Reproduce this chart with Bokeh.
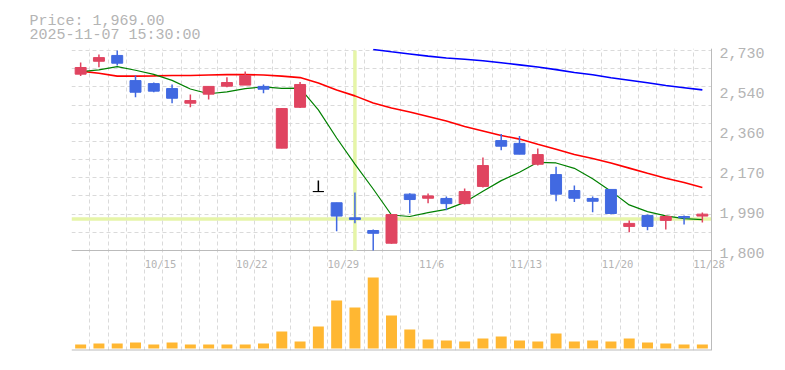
import math
from bokeh.plotting import figure
from bokeh.models import (ColumnDataSource, Range1d, LinearAxis, FixedTicker, Grid,
                          Span, Label, Title, BoxAnnotation)
from bokeh.embed import file_html
from bokeh.resources import INLINE
from bokeh.core.properties import value

# ---------------- data ----------------
dates = ["10/8", "10/9", "10/10", "10/14", "10/15", "10/16", "10/17", "10/20", "10/21",
         "10/22", "10/23", "10/24", "10/27", "10/28", "10/29", "10/30", "10/31", "11/4",
         "11/5", "11/6", "11/7", "11/10", "11/11", "11/12", "11/13", "11/14", "11/17",
         "11/18", "11/19", "11/20", "11/21", "11/25", "11/26", "11/27", "11/28"]
opens = [2620, 2680, 2707, 2590, 2576, 2553, 2485, 2527, 2564, 2569, 2563, 2276, 2466, 2074,
         2022, 1952, 1893, 1834, 2062, 2043, 2042, 2018, 2098, 2311, 2298, 2201, 2153, 2079,
         2042, 2084, 1912, 1963, 1940, 1958, 1960]
highs = [2674, 2711, 2730, 2614, 2581, 2572, 2525, 2563, 2606, 2632, 2572, 2463, 2584, 2125,
         2022, 2070, 1898, 1967, 2066, 2065, 2051, 2088, 2232, 2342, 2333, 2274, 2190, 2102,
         2051, 2084, 1940, 1967, 1964, 1963, 1977]
lows = [2611, 2652, 2660, 2513, 2536, 2485, 2466, 2502, 2559, 2569, 2531, 2276, 2463, 2074,
        1890, 1927, 1800, 1831, 1973, 2020, 1987, 2014, 2093, 2266, 2248, 2195, 2029, 2025,
        1978, 1969, 1885, 1894, 1898, 1921, 1930]
closes = [2651, 2697, 2671, 2536, 2541, 2508, 2497, 2563, 2581, 2614, 2550, 2460, 2572, 2074,
          1960, 1944, 1880, 1967, 2037, 2054, 2018, 2074, 2195, 2285, 2248, 2246, 2062, 2043,
          2029, 1972, 1926, 1912, 1958, 1952, 1969]
volumes = [400, 500, 500, 600, 400, 600, 400, 400, 400, 400, 500, 1700, 700, 2200, 4800, 4100,
           7100, 3300, 1900, 900, 800, 700, 1000, 1200, 800, 700, 1500, 700, 800, 700, 1000,
           600, 500, 400, 400]
sma5 = [2632, 2640, 2655, 2638, 2619, 2591, 2551, 2529, 2538, 2553, 2561, 2554, 2555, 2454,
        2323, 2202, 2086, 1965, 1958, 1976, 1991, 2024, 2076, 2125, 2164, 2210, 2207, 2182,
        2134, 2076, 2012, 1981, 1961, 1948, 1944]
sma25 = [2634, 2624, 2611, 2611, 2612, 2614, 2614, 2616, 2618, 2618, 2616, 2611, 2604, 2579,
         2546, 2519, 2486, 2463, 2444, 2423, 2402, 2377, 2356, 2335, 2318, 2294, 2271, 2246,
         2228, 2207, 2183, 2159, 2136, 2116, 2093]
sma75 = [None] * 16 + [2735, 2724, 2714, 2704, 2695, 2689, 2682, 2673, 2663, 2653, 2641, 2628,
                       2617, 2603, 2592, 2580, 2567, 2557, 2547]
tick_labels = ["10/15", "10/22", "10/29", "11/6", "11/13", "11/20", "11/28"]
price_text = "Price: 1,969.00"
time_text = "2025-11-07 15:30:00"
cursor_date = "10/30"
cursor_price = 1947

# ---------------- styling ----------------
UP = "#e04460"
DOWN = "#4169e1"
FLAT = "#000000"
VOL = "#ffb732"
GRID = "#dadada"
AXIS = "#bbbbbb"
TXT = "#b4b4b4"
XHAIR = "#e6f5a8"
FONT = "Liberation Mono"
FONT2 = "DejaVu Sans Mono"

n = len(dates)
idx = list(range(n))
lo, hi = min(lows), max(highs)
rng = hi - lo
PLOT_W = 640          # width of the drawn chart area
EXT = 16              # extra frame strip on the right so edge labels are not clipped
FRAME_W = PLOT_W + EXT
FRAME_H = 302
ppx = rng / 200.0                       # price units per pixel (price pane = 200 px)
xpx = n / PLOT_W                        # index units per pixel
x_end = n - 0.5
y_start = lo - 100 * ppx                 # volume pane = 100 px below
y_end = y_start + FRAME_H * ppx

vtop = max(volumes) * 1.38
v0 = -0.02 * vtop
vpx = (vtop - v0) / 100.0

colors = [UP if c > o else (DOWN if c < o else FLAT) for o, c in zip(opens, closes)]
src = ColumnDataSource(dict(
    x=idx, open=opens, high=highs, low=lows, close=closes, vol=volumes,
    top=[max(o, c) for o, c in zip(opens, closes)],
    bottom=[min(o, c) for o, c in zip(opens, closes)],
    color=colors,
    sma5=sma5, sma25=sma25,
    sma75=[float("nan") if v is None else v for v in sma75],
))

p = figure(frame_width=FRAME_W, frame_height=FRAME_H, output_backend="svg", toolbar_location=None,
           x_range=Range1d(-0.5, x_end + EXT * xpx), y_range=Range1d(y_start, y_end),
           y_axis_location=None, x_axis_location=None,
           min_border_left=71, min_border_right=42, min_border_top=48, min_border_bottom=8)
p.outline_line_color = None
p.background_fill_color = "white"
p.border_fill_color = "white"
for g in p.grid:
    g.visible = False

p.extra_y_ranges = {
    "vol": Range1d(v0, v0 + FRAME_H * vpx),
    "axis": Range1d(y_start + 2.7 * ppx, y_end + 2.7 * ppx),
}

# grids
vgrid = Grid(dimension=0, ticker=FixedTicker(ticks=[i - 0.5 for i in range(n + 1)]),
             grid_line_color=GRID, grid_line_dash="4 3", grid_line_width=1)
hgrid = Grid(dimension=1, ticker=FixedTicker(ticks=[lo + k * rng / 11 for k in range(12)]),
             bounds=(lo, hi), grid_line_color=GRID, grid_line_dash="4 3", grid_line_width=1)
p.add_layout(vgrid)
p.add_layout(hgrid)
# blank the extra strip right of the chart
p.add_layout(BoxAnnotation(left=x_end, fill_color="white", fill_alpha=1.0, line_color=None,
                           level="glyph"))

# right price axis (labels only; border drawn separately)
ticks = [int(round(lo + k * rng / 5)) for k in range(6)]
yaxis = LinearAxis(y_range_name="axis", ticker=FixedTicker(ticks=ticks),
                   major_label_overrides={t: f"{int(round(t / 10.0) * 10):,}" for t in ticks},
                   axis_line_color=None, major_tick_line_color=None, minor_tick_line_color=None,
                   major_tick_out=0, major_tick_in=0, minor_tick_out=0, minor_tick_in=0,
                   major_label_standoff=8 - EXT, major_label_text_font=FONT,
                   major_label_text_font_size="15px", major_label_text_color=TXT)
p.add_layout(yaxis, "right")

# borders: right edge, pane separator, bottom edge
p.add_layout(Span(location=x_end, dimension="height", line_color=AXIS, line_width=1))
p.segment(x0=[-0.5], x1=[x_end], y0=[lo], y1=[lo], line_color=AXIS, line_width=1)
p.segment(x0=[-0.5], x1=[x_end], y0=[y_start], y1=[y_start], line_color=AXIS, line_width=2)

# crosshair
ci = dates.index(cursor_date)
p.segment(x0=[-0.5], x1=[x_end], y0=[cursor_price], y1=[cursor_price], line_color=XHAIR,
          line_width=3.5, level="underlay")
p.segment(x0=[ci], x1=[ci], y0=[lo], y1=[hi], line_color=XHAIR, line_width=3.5)

# volume
p.vbar(x="x", top="vol", bottom=0, width=0.6, y_range_name="vol", source=src,
       fill_color=VOL, line_color=None)

# moving averages
p.line("x", "sma75", source=src, line_color="#0000ff", line_width=1.6)
p.line("x", "sma25", source=src, line_color="#ff0000", line_width=1.6)
p.line("x", "sma5", source=src, line_color="#008000", line_width=1.2)

# candles
p.segment(x0="x", x1="x", y0="high", y1="low", source=src, line_color="color", line_width=1.5)
p.vbar(x="x", top="top", bottom="bottom", width=0.6, source=src,
       fill_color="color", line_color="color", line_width=1)

# date labels inside the volume pane
for t in tick_labels:
    p.add_layout(Label(x=dates.index(t) - 0.5, y=vtop - 13 * vpx, y_range_name="vol",
                       text=t, text_align="left", text_baseline="middle",
                       text_font=FONT2, text_font_size="10.5px", text_color=TXT))

# header text (two lines, above-left of the frame)
p.add_layout(Title(text=price_text + "\n" + time_text, align="left", offset=-42, standoff=9,
                   text_font=FONT, text_font_size="15px", text_font_style="normal",
                   text_line_height=0.85, text_color=TXT), "above")

open("out.html", "w").write(file_html(p, INLINE))
